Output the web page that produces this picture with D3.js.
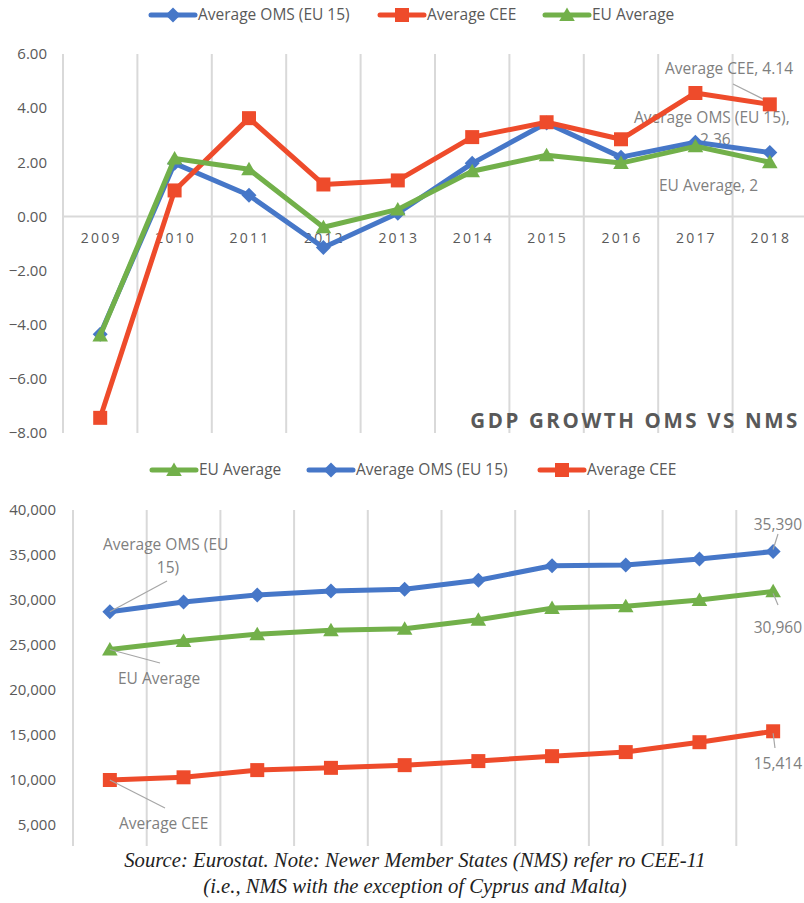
<!DOCTYPE html>
<html>
<head>
<meta charset="utf-8">
<script src="https://cdn.jsdelivr.net/npm/d3@7/dist/d3.min.js"></script>
<style>
  html, body { margin: 0; padding: 0; background: #fff; }
  svg { display: block; }
  text { font-family: "Open Sans", "Liberation Sans", sans-serif; fill: #595959; }
</style>
</head>
<body>
<svg id="chart" width="804" height="903"></svg>
<script>
// ---- data ----
const years = ["2009","2010","2011","2012","2013","2014","2015","2016","2017","2018"];

// GDP growth (%)
const growthOMS = [-4.35, 1.96, 0.78, -1.15, 0.12, 1.96, 3.45, 2.19, 2.74, 2.36];
const growthCEE = [-7.44, 0.96, 3.63, 1.18, 1.33, 2.93, 3.48, 2.85, 4.56, 4.14];
const growthEU  = [-4.40, 2.14, 1.74, -0.40, 0.26, 1.67, 2.26, 1.97, 2.59, 2.00];
const growthTicks = [6, 4, 2, 0, -2, -4, -6, -8];

// GDP per capita
const levelOMS = [28700, 29780, 30560, 31000, 31200, 32200, 33800, 33900, 34550, 35390];
const levelEU  = [24500, 25450, 26200, 26650, 26800, 27800, 29100, 29300, 30000, 30960];
const levelCEE = [10000, 10300, 11100, 11350, 11650, 12100, 12650, 13100, 14200, 15414];
const levelTicks = [40000, 35000, 30000, 25000, 20000, 15000, 10000, 5000];

const BLUE = "#4677C8", RED = "#EE4B2B", GREEN = "#72B04A";
const GRID = "#d9d9d9", TXT = "#595959";

const svg = d3.select("#chart");

// marker shapes, sized in pixels
const shapes = {
  diamond: "M0,-7.5L7.5,0L0,7.5L-7.5,0Z",
  square: "M-7,-7H7V7H-7Z",
  triangle: "M0,-7.5L7.8,6L-7.8,6Z"
};

function marker(g, shape, color, x, y) {
  g.append("path")
    .attr("d", shapes[shape])
    .attr("transform", `translate(${x},${y})`)
    .attr("fill", color);
}

function legend(g, items, y, font) {
  items.forEach(it => {
    g.append("line").attr("x1", it.x).attr("x2", it.x + 44).attr("y1", y).attr("y2", y)
      .attr("stroke", it.color).attr("stroke-width", 5).attr("stroke-linecap", "round");
    marker(g, it.shape, it.color, it.x + 22, y);
    g.append("text").attr("x", it.x + 47).attr("y", y + 5)
      .style("font-family", font).style("font-size", "15.5px").style("fill", TXT)
      .text(it.label);
  });
}

function series(g, x, y, values, color, shape) {
  const line = d3.line().x((d, i) => x(years[i]) + x.bandwidth() / 2).y(d => y(d));
  g.append("path").datum(values).attr("d", line)
    .attr("fill", "none").attr("stroke", color).attr("stroke-width", 5)
    .attr("stroke-linejoin", "round");
  values.forEach((v, i) => marker(g, shape, color, x(years[i]) + x.bandwidth() / 2, y(v)));
}

function leader(g, x1, y1, x2, y2) {
  g.append("line").attr("x1", x1).attr("y1", y1).attr("x2", x2).attr("y2", y2)
    .attr("stroke", "#a6a6a6").attr("stroke-width", 1.2);
}

function label(g, x, y, t, anchor) {
  g.append("text").attr("x", x).attr("y", y).attr("text-anchor", anchor || "start")
    .style("font-size", "15.5px").style("fill", "#7f7f7f").text(t);
}

// ================= GDP growth chart =================
{
  const g = svg.append("g");
  const x = d3.scaleBand().domain(years).range([63, 807]);
  const y = d3.scaleLinear().domain([-8, 6]).range([433, 54]);
  const cx = yr => x(yr) + x.bandwidth() / 2;

  // vertical gridlines at category boundaries
  const bounds = years.map(yr => x(yr)).concat([x.range()[1]]);
  g.selectAll(".vg").data(bounds).join("line")
    .attr("x1", d => d).attr("x2", d => d).attr("y1", y(6)).attr("y2", y(-8))
    .attr("stroke", GRID).attr("stroke-width", 2);
  // zero line
  g.append("line").attr("x1", x.range()[0]).attr("x2", x.range()[1])
    .attr("y1", y(0)).attr("y2", y(0)).attr("stroke", GRID).attr("stroke-width", 2);

  // y axis labels
  const yAxis = d3.axisLeft(y).tickValues(growthTicks).tickFormat(d3.format(".2f")).tickSize(0).tickPadding(0);
  const ya = g.append("g").attr("transform", "translate(47,0)").call(yAxis);
  ya.select(".domain").remove();
  ya.selectAll("text").style("font-size", "15px").style("fill", TXT).style("font-family", "'Open Sans', sans-serif");

  // category labels under the zero line
  g.selectAll(".xl").data(years).join("text")
    .attr("x", d => cx(d) + 1).attr("y", y(0) + 27).attr("text-anchor", "middle")
    .style("font-size", "14px").style("letter-spacing", "2.2px").style("fill", TXT)
    .text(d => d);

  // data labels
  label(g, 665, 74, "Average CEE, 4.14");
  leader(g, 733, 84, cx("2018") - 4, y(4.14) - 4);
  label(g, 634, 123, "Average OMS (EU 15),");
  label(g, 700, 145, "2.36");

  series(g, x, y, growthOMS, BLUE, "diamond");
  series(g, x, y, growthCEE, RED, "square");
  series(g, x, y, growthEU, GREEN, "triangle");

  label(g, 659, 191, "EU Average, 2");

  g.append("text").attr("x", 800).attr("y", 428).attr("text-anchor", "end")
    .style("font-size", "20.5px").style("font-weight", "bold").style("letter-spacing", "2.6px")
    .style("fill", TXT).text("GDP GROWTH OMS VS NMS");

  legend(g, [
    { x: 151, color: BLUE, shape: "diamond", label: "Average OMS (EU 15)" },
    { x: 380, color: RED, shape: "square", label: "Average CEE" },
    { x: 545, color: GREEN, shape: "triangle", label: "EU Average" }
  ], 15, "'Liberation Sans Narrow', 'Open Sans', sans-serif");
}

// ================= GDP per capita chart =================
{
  const g = svg.append("g");
  const x = d3.scaleBand().domain(years).range([73, 810]);
  const y = d3.scaleLinear().domain([5000, 40000]).range([825, 510]);
  const cx = yr => x(yr) + x.bandwidth() / 2;

  const bounds = years.map(yr => x(yr));
  g.selectAll(".vg").data(bounds).join("line")
    .attr("x1", d => d).attr("x2", d => d).attr("y1", y(40000)).attr("y2", 850)
    .attr("stroke", GRID).attr("stroke-width", 2);

  const yAxis = d3.axisLeft(y).tickValues(levelTicks).tickFormat(d3.format(",")).tickSize(0).tickPadding(0);
  const ya = g.append("g").attr("transform", "translate(56,0)").call(yAxis);
  ya.select(".domain").remove();
  ya.selectAll("text").style("font-size", "15px").style("fill", TXT).style("font-family", "'Open Sans', sans-serif");

  series(g, x, y, levelOMS, BLUE, "diamond");
  series(g, x, y, levelEU, GREEN, "triangle");
  series(g, x, y, levelCEE, RED, "square");

  const x0 = cx("2009"), x9 = cx("2018");
  label(g, 103, 550, "Average OMS (EU");
  label(g, 168, 573, "15)", "middle");
  leader(g, 167, 581, x0, y(levelOMS[0]));
  label(g, 118, 684, "EU Average");
  leader(g, 160, 663, x0, y(levelEU[0]));
  label(g, 119, 829, "Average CEE");
  leader(g, 165, 808, x0, y(levelCEE[0]));

  label(g, 802, 530, "35,390", "end");
  leader(g, 778, 534, x9, y(levelOMS[9]) - 2);
  label(g, 802, 633, "30,960", "end");
  leader(g, 778, 605, x9, y(levelEU[9]) + 2);
  label(g, 802, 769, "15,414", "end");
  leader(g, 775, 748, x9, y(levelCEE[9]) + 2);

  legend(g, [
    { x: 152, color: GREEN, shape: "triangle", label: "EU Average" },
    { x: 309, color: BLUE, shape: "diamond", label: "Average OMS (EU 15)" },
    { x: 540, color: RED, shape: "square", label: "Average CEE" }
  ], 470, "'Open Sans', sans-serif");
}

// ---- source note ----
svg.append("rect").attr("x", 0).attr("y", 846).attr("width", 804).attr("height", 57).attr("fill", "#fff");
const noteLines = [
  "Source: Eurostat. Note: Newer Member States (NMS) refer ro CEE-11",
  "(i.e., NMS with the exception of Cyprus and Malta)"
];
svg.selectAll(".note").data(noteLines).join("text")
  .attr("x", 415).attr("y", (d, i) => 867 + i * 26).attr("text-anchor", "middle")
  .style("font-family", "'Liberation Serif', 'DejaVu Serif', serif")
  .style("font-style", "italic").style("font-size", "20.7px").style("fill", "#222")
  .text(d => d);
</script>
</body>
</html>
